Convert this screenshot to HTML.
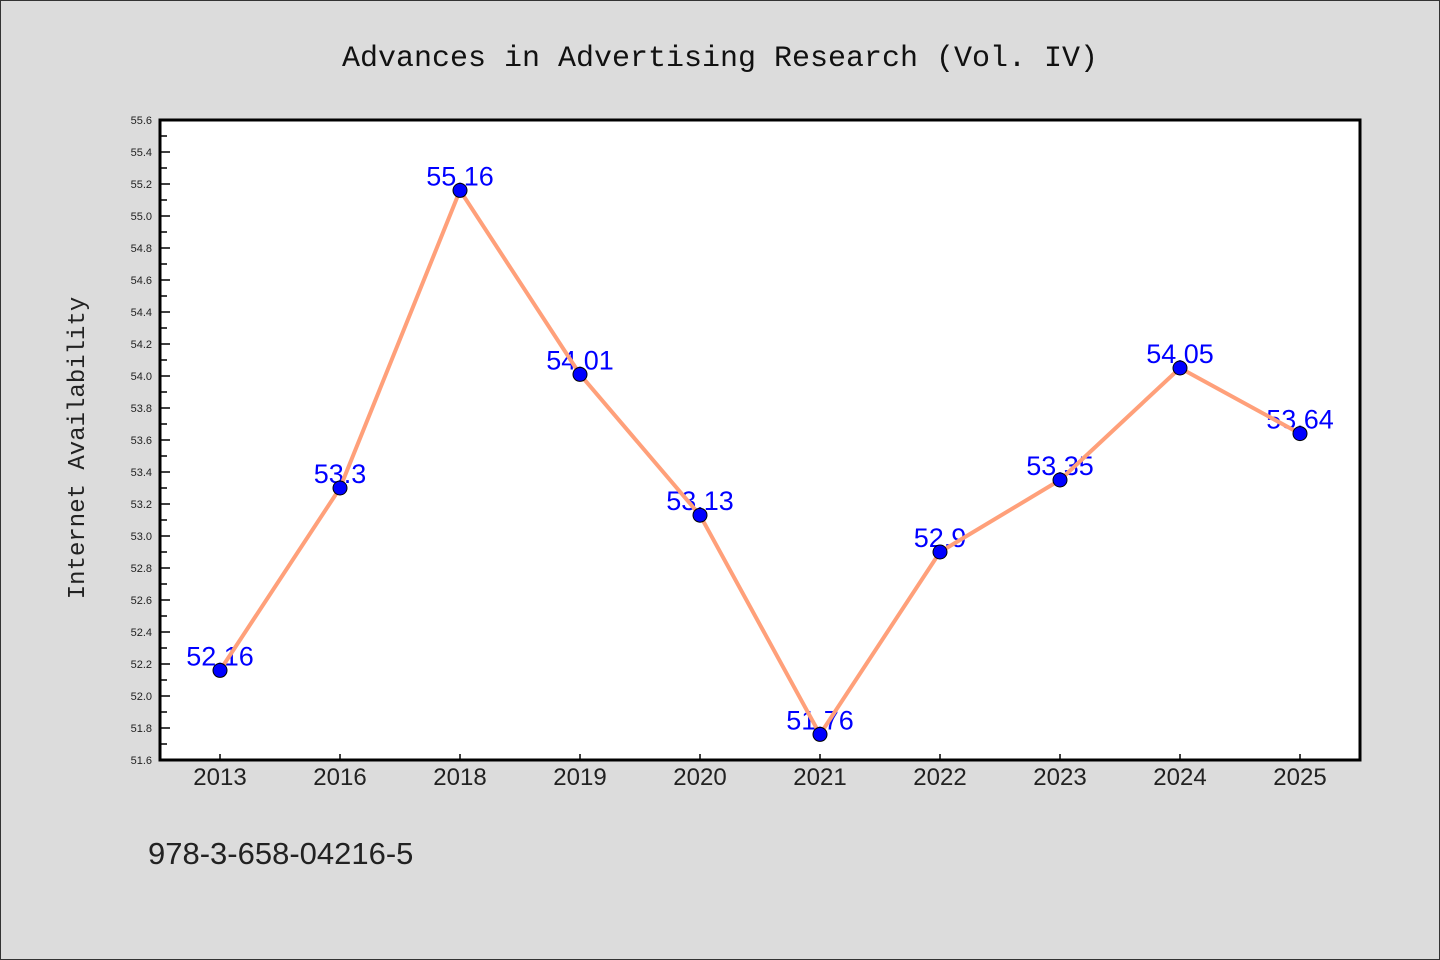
<!DOCTYPE html>
<html><head><meta charset="utf-8"><style>
html,body{margin:0;padding:0;background:#dcdcdc}
svg{display:block}
</style></head><body>
<svg id="chart" width="1440" height="960" xmlns="http://www.w3.org/2000/svg">
<rect x="0.5" y="0.5" width="1439" height="959" fill="#dcdcdc" stroke="#333"/>
<text x="720" y="66" text-anchor="middle" font-family="'Liberation Mono',monospace" font-size="30" fill="#111">Advances in Advertising Research (Vol. IV)</text>
<rect x="160" y="120" width="1200" height="640" fill="#fff"/>
<g id="axes"></g>
<g id="series"></g>
<rect x="160" y="120" width="1200" height="640" fill="none" stroke="#000" stroke-width="3"/>
<text transform="translate(84,448) rotate(-90)" text-anchor="middle" font-family="'Liberation Mono',monospace" font-size="24" fill="#222">Internet Availability</text>
<text x="148" y="864" font-family="'Liberation Sans',sans-serif" font-size="31" fill="#222">978-3-658-04216-5</text>
</svg>
<script>
const categories=["2013","2016","2018","2019","2020","2021","2022","2023","2024","2025"];
const values=[52.16,53.3,55.16,54.01,53.13,51.76,52.9,53.35,54.05,53.64];
const valueLabels=["52.16","53.3","55.16","54.01","53.13","51.76","52.9","53.35","54.05","53.64"];
const yTicks=["51.6","51.8","52.0","52.2","52.4","52.6","52.8","53.0","53.2","53.4","53.6","53.8","54.0","54.2","54.4","54.6","54.8","55.0","55.2","55.4","55.6"];
const NS="http://www.w3.org/2000/svg";
const L=160,R=1360,T=120,B=760,yMin=51.6,yMax=55.6;
const x=i=>L+(R-L)/categories.length*(i+0.5);
const y=v=>B-(v-yMin)/(yMax-yMin)*(B-T);
function mk(tag,attrs,parent){const e=document.createElementNS(NS,tag);for(const k in attrs)e.setAttribute(k,attrs[k]);parent.appendChild(e);return e;}
const ax=document.getElementById('axes'),se=document.getElementById('series');
yTicks.forEach((t,i)=>{
  const v=parseFloat(t),yy=y(v);
  const tk=mk('line',{x1:L,x2:L+10,y1:yy,y2:yy,stroke:'#000','stroke-width':1.5},ax);
  
  
  const lb=mk('text',{x:L-8,y:yy+4,'text-anchor':'end','font-family':"'Liberation Sans',sans-serif",'font-size':11,fill:'#222'},ax);
  lb.textContent=t;
  
  
  if(i<yTicks.length-1){
    const ym=y(v+0.1);
    const mt=mk('line',{x1:L,x2:L+7,y1:ym,y2:ym,stroke:'#000','stroke-width':1.5},ax);
    
    
  }
});
categories.forEach((c,i)=>{
  const tk=mk('line',{x1:x(i),x2:x(i),y1:B,y2:B-6,stroke:'#000','stroke-width':1.5},ax);
  
  
  const lb=mk('text',{x:x(i),y:B+25,'text-anchor':'middle','font-family':"'Liberation Sans',sans-serif",'font-size':24,fill:'#222'},ax);
  lb.textContent=c;
  
  
});
values.forEach((v,i)=>{
  const lb=mk('text',{x:x(i),y:y(v)-5,'text-anchor':'middle','font-family':"'Liberation Sans',sans-serif",'font-size':27,fill:'#0000ff'},se);
  lb.textContent=valueLabels[i];
  
  
});
const pl=mk('polyline',{points:values.map((v,i)=>x(i)+','+y(v)).join(' '),fill:'none',stroke:'#ffa07a','stroke-width':4,'stroke-linejoin':'round'},se);


values.forEach((v,i)=>{
  const c=mk('circle',{cx:x(i),cy:y(v),r:7,fill:'#0000ff',stroke:'#000','stroke-width':1},se);
  
  
});
</script>
</body></html>
